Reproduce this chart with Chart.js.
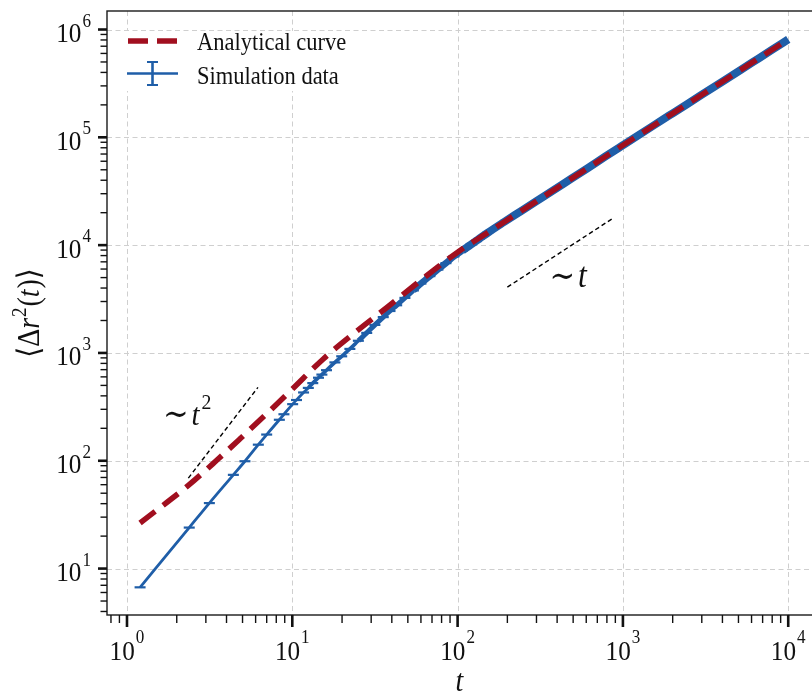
<!DOCTYPE html>
<html><head><meta charset="utf-8">
<script src="https://cdn.jsdelivr.net/npm/chart.js@4.4.1/dist/chart.umd.min.js"></script>
<style>
html,body{margin:0;padding:0;overflow:hidden;background:#fff;width:812px;height:697px}
#wrap{width:830px;height:697px}
</style></head>
<body><div id="wrap"><canvas id="c" width="830" height="697"></canvas></div>
<script>
// ---- data ----
const analyticT   = [1.2, 1.74, 2.35, 3.49, 4.83, 7.33, 10, 15.4, 23.5, 37.7, 60, 100, 152, 242, 385, 613, 1000, 2985, 6000, 10000];
const analyticMSD = [26.5, 41, 59, 101, 160, 292, 462, 880, 1510, 2670, 4730, 8600, 13060, 20700, 32700, 51900, 84500, 247000, 490000, 810000];

const simT   = [1.2, 2.38, 3.15, 4.4, 5.17, 6.23, 7.0, 8.35, 8.9, 10.05, 10.6, 11.7, 12.5, 13.3, 14.4, 15.1, 16.1, 18.1, 19.9, 22.3, 25.1, 28.2, 31.6, 35.5, 39, 42.8, 48, 54, 60, 68, 76, 85, 95, 107, 120, 135, 152, 190, 242, 300, 385, 490, 613, 780, 1000, 1500, 2000, 2985, 4000, 6000, 8000, 10000];
const simMSD = [6.7, 24, 40.5, 74, 99, 141, 175, 240, 270, 335, 366, 430, 474, 525, 589, 630, 692, 817, 931, 1090, 1297, 1535, 1820, 2150, 2450, 2770, 3240, 3800, 4400, 5160, 5930, 6810, 7850, 8930, 10070, 11430, 13000, 16300, 20700, 25600, 32700, 41600, 51900, 66100, 84500, 126000, 167000, 247000, 329000, 490000, 650000, 810000];

const guideSqT = [2.35, 6.2];   const guideSqY = [69, 480];      // ~ t^2 guide
const guideLinT = [200, 880];   const guideLinY = [4080, 17950]; // ~ t guide

const xTickExps = [0, 1, 2, 3, 4];
const yTickExps = [1, 2, 3, 4, 5, 6];
const xRange = [0.757, 15140];
const yRange = [3.71, 1.485e6];

// ---- styles ----
const RED = '#a10f1f', BLUE = '#1f5ea8';
const SERIF = '"Liberation Serif","DejaVu Serif",serif';
const SX = 0.9;

function pts(xs, ys){ return xs.map((x,i)=>({x:x, y:ys[i]})); }

function txt(ctx, s, x, y, font, align){
  ctx.save(); ctx.font = font;
  const w = ctx.measureText(s).width * SX;
  let x0 = align==='center' ? x - w/2 : (align==='right' ? x - w : x);
  ctx.translate(x0, y); ctx.scale(SX, 1);
  ctx.textAlign='left'; ctx.textBaseline='alphabetic'; ctx.fillStyle='#111';
  ctx.fillText(s, 0, 0); ctx.restore(); return w;
}
function tw(ctx, s, font){ ctx.save(); ctx.font=font; const w=ctx.measureText(s).width*SX; ctx.restore(); return w; }

function runs(ctx, parts, x, y, align){
  let total = 0; parts.forEach(p=>{ total += tw(ctx,p.s,p.f) + (p.gap||0); });
  let cx = align==='center' ? x-total/2 : (align==='right' ? x-total : x);
  parts.forEach(p=>{ txt(ctx,p.s,cx,y+(p.dy||0),p.f,'left'); cx += tw(ctx,p.s,p.f) + (p.gap||0); });
}

function pow10(ctx, exp, x, y, align, supDy){
  const fb = '28px '+SERIF, fs = '19px '+SERIF;
  runs(ctx, [{s:'10', f:fb, gap:1}, {s:String(exp), f:fs, dy:-supDy}], x, y, align);
}

const framePlugin = {
  id:'frame',
  beforeDatasetsDraw(chart){
    const {ctx, chartArea:a, scales:{x, y}} = chart;
    ctx.save();
    ctx.beginPath(); ctx.rect(a.left, a.top, a.right-a.left, a.bottom-a.top); ctx.clip();
    ctx.strokeStyle = '#cfcfcf'; ctx.lineWidth = 1; ctx.setLineDash([5,3.5]);
    xTickExps.forEach(e=>{ const p = Math.round(x.getPixelForValue(Math.pow(10,e)))+0.5;
      ctx.beginPath(); ctx.moveTo(p,a.top); ctx.lineTo(p,a.bottom); ctx.stroke(); });
    yTickExps.forEach(e=>{ const p = Math.round(y.getPixelForValue(Math.pow(10,e)))+0.5;
      ctx.beginPath(); ctx.moveTo(a.left,p); ctx.lineTo(a.right,p); ctx.stroke(); });
    ctx.restore();
  },
  afterDraw(chart){
    const {ctx, chartArea:a, scales:{x, y}} = chart;
    ctx.save();
    // frame
    ctx.strokeStyle = '#1a1a1a'; ctx.lineWidth = 1.4; ctx.setLineDash([]);
    ctx.strokeRect(a.left, a.top, a.right-a.left, a.bottom-a.top);
    // ticks
    ctx.strokeStyle = '#111';
    for (let e = -1; e <= 4; e++){
      for (let k = 1; k <= 9; k++){
        const v = k*Math.pow(10,e);
        if (v < xRange[0] || v > xRange[1]) continue;
        const p = x.getPixelForValue(v), major = (k===1);
        ctx.lineWidth = major ? 2.6 : 1.4;
        ctx.beginPath(); ctx.moveTo(p, a.bottom); ctx.lineTo(p, a.bottom + (major?12:8)); ctx.stroke();
      }
    }
    for (let e = 0; e <= 6; e++){
      for (let k = 1; k <= 9; k++){
        const v = k*Math.pow(10,e);
        if (v < yRange[0] || v > yRange[1]) continue;
        const p = y.getPixelForValue(v), major = (k===1);
        ctx.lineWidth = major ? 2.6 : 1.4;
        ctx.beginPath(); ctx.moveTo(a.left, p); ctx.lineTo(a.left - (major?9:6.5), p); ctx.stroke();
      }
    }
    // tick labels
    xTickExps.forEach(e=>{ pow10(ctx, e, x.getPixelForValue(Math.pow(10,e)), a.bottom+45, 'center', 17); });
    yTickExps.forEach(e=>{ pow10(ctx, e, a.left-16, y.getPixelForValue(Math.pow(10,e))+12.5, 'right', 15.5); });
    // axis titles
    runs(ctx, [{s:'t', f:'italic 31px '+SERIF}], (a.left+a.right)/2 - 3, 691, 'center');
    ctx.save(); ctx.translate(39, (a.top+a.bottom)/2); ctx.rotate(-Math.PI/2);
    runs(ctx, [
      {s:'\u27E8\u0394', f:'31px '+SERIF},
      {s:'r', f:'italic 31px '+SERIF, gap:1},
      {s:'2', f:'21px '+SERIF, dy:-13, gap:1},
      {s:'(', f:'31px '+SERIF},
      {s:'t', f:'italic 31px '+SERIF, gap:1},
      {s:')\u27E9', f:'31px '+SERIF}
    ], 0, 0, 'center');
    ctx.restore();
    // guide annotations (anchored in data space)
    runs(ctx, [{s:'\u223C', f:'34px '+SERIF, gap:3}, {s:'t', f:'italic 35px '+SERIF}],
         x.getPixelForValue(466), y.getPixelForValue(4075), 'center');
    runs(ctx, [{s:'\u223C', f:'34px '+SERIF, gap:3}, {s:'t', f:'italic 32px '+SERIF, gap:2}, {s:'2', f:'22px '+SERIF, dy:-16}],
         x.getPixelForValue(1.65), y.getPixelForValue(214), 'left');
    // legend
    const lx = a.left + 8, ly = a.top + 20;
    ctx.fillStyle = '#fff'; ctx.fillRect(lx, ly, 245, 60);
    ctx.strokeStyle = RED; ctx.lineWidth = 5.5; ctx.setLineDash([20,9]);
    ctx.beginPath(); ctx.moveTo(lx+13, ly+10); ctx.lineTo(lx+62, ly+10); ctx.stroke();
    ctx.setLineDash([]);
    ctx.strokeStyle = BLUE; ctx.lineWidth = 2.6;
    ctx.beginPath(); ctx.moveTo(lx+12, ly+42.5); ctx.lineTo(lx+63, ly+42.5); ctx.stroke();
    ctx.beginPath(); ctx.moveTo(lx+37.5, ly+31); ctx.lineTo(lx+37.5, ly+54); ctx.stroke();
    ctx.lineWidth = 2.2;
    ctx.beginPath(); ctx.moveTo(lx+32, ly+31); ctx.lineTo(lx+43, ly+31);
    ctx.moveTo(lx+32, ly+54); ctx.lineTo(lx+43, ly+54); ctx.stroke();
    txt(ctx, 'Analytical curve', lx+82, ly+18.5, '25px '+SERIF, 'left');
    txt(ctx, 'Simulation data', lx+82, ly+52.5, '25px '+SERIF, 'left');
    ctx.restore();
  }
};

new Chart(document.getElementById('c').getContext('2d'), {
  type:'line',
  data:{ datasets:[
    { label:'Analytical curve', data:pts(analyticT, analyticMSD), borderColor:RED, borderWidth:5.5,
      borderDash:[19,10], pointRadius:0, cubicInterpolationMode:'monotone', fill:false },
    { label:'~t', data:pts(guideLinT, guideLinY), borderColor:'#000', borderWidth:1.4, borderDash:[4.5,3],
      pointRadius:0, fill:false },
    { label:'~t2', data:pts(guideSqT, guideSqY), borderColor:'#000', borderWidth:1.4, borderDash:[4.5,3],
      pointRadius:0, fill:false },
    { label:'Simulation data', data:pts(simT, simMSD), borderColor:BLUE, borderWidth:2.8,
      cubicInterpolationMode:'monotone', fill:false,
      pointStyle:'line', pointBorderColor:BLUE, pointBackgroundColor:BLUE, pointBorderWidth:2.2,
      pointRadius: c => (simT[c.dataIndex] <= 160 ? 5.5 : 0),
      segment:{ borderWidth: c => { const t = simT[c.p0DataIndex];
        return t < 12 ? 2.8 : t < 25 ? 3.6 : t < 50 ? 5 : t < 100 ? 6.5 : 8; } } }
  ]},
  options:{
    responsive:false, animation:false, events:[],
    plugins:{ legend:{display:false}, tooltip:{enabled:false} },
    layout:{ padding:{ top:11, right:12, left:0, bottom:0 } },
    scales:{
      x:{ type:'logarithmic', min:xRange[0], max:xRange[1], bounds:'data',
          grid:{display:false}, border:{display:false}, ticks:{display:false},
          afterFit(s){ s.height = 82; } },
      y:{ type:'logarithmic', min:yRange[0], max:yRange[1], bounds:'data',
          grid:{display:false}, border:{display:false}, ticks:{display:false},
          afterFit(s){ s.width = 107; } }
    }
  },
  plugins:[framePlugin]
});
</script>
</body></html>
